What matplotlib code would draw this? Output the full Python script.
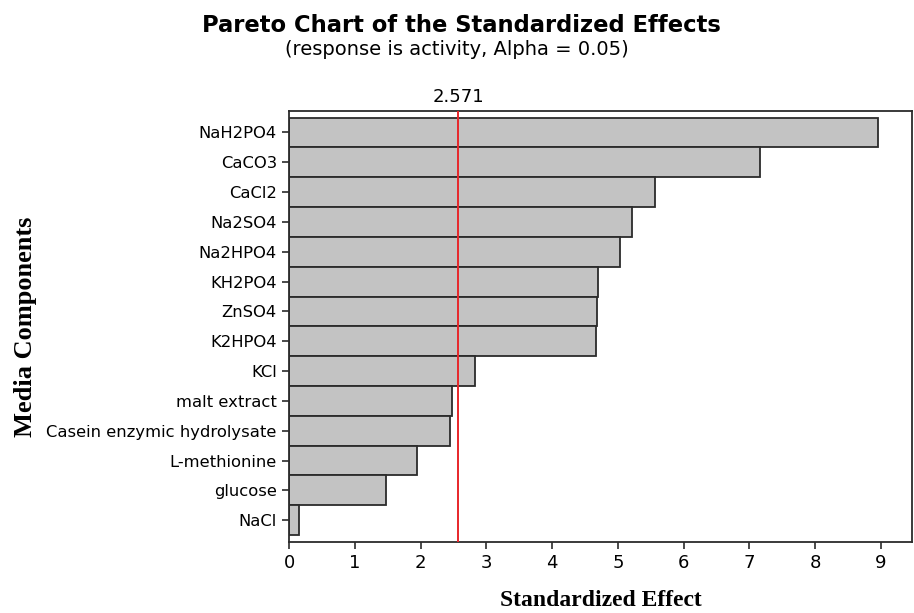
import numpy as np
import matplotlib
matplotlib.use('Agg')
import matplotlib.pyplot as plt

# standardized effects, largest first
components = ['NaH2PO4', 'CaCO3', 'CaCl2', 'Na2SO4', 'Na2HPO4', 'KH2PO4', 'ZnSO4',
              'K2HPO4', 'KCl', 'malt extract', 'Casein enzymic hydrolysate',
              'L-methionine', 'glucose', 'NaCl']
effects = [8.95, 7.16, 5.56, 5.22, 5.03, 4.69, 4.68, 4.66, 2.83, 2.48, 2.44, 1.95, 1.47, 0.15]
critical = 2.571
xticks = list(range(10))

plt.rcParams['font.family'] = 'DejaVu Sans'

fig = plt.figure(figsize=(9.14, 6.13), dpi=100)
ax = fig.add_axes([0.3165, 0.1163, 0.681, 0.7026])

pos = np.arange(len(components))
ax.barh(pos, effects, height=1.0, color='#c3c3c3', edgecolor='#2b2b2b', linewidth=1.3)
ax.axvline(critical, color='#e8262a', linewidth=1.4, zorder=3)

ax.set_ylim(len(components) - 0.28, -0.72)
ax.set_xlim(0, 9.47)
ax.set_yticks(pos)
ax.set_yticklabels(components, fontsize=11.8)
ax.set_xticks(xticks)
ax.set_xticklabels([str(t) for t in xticks], fontsize=13)
ax.tick_params(axis='both', direction='out', length=5, width=1.2, color='#2b2b2b', pad=4)
for s in ax.spines.values():
    s.set_linewidth(1.3)
    s.set_color('#2b2b2b')

ax.text(critical, 1.012, '%.3f' % critical, transform=ax.get_xaxis_transform(),
        ha='center', va='bottom', fontsize=13)

ax.set_xlabel('Standardized Effect', family='Liberation Serif', fontweight='bold',
              fontsize=17, labelpad=13)
ax.set_ylabel('Media Components', family='Liberation Serif', fontweight='bold',
              fontsize=19)
ax.yaxis.set_label_coords(-0.405, 0.5)

fig.text(0.505, 0.958, 'Pareto Chart of the Standardized Effects', ha='center', va='center',
         fontsize=16.3, fontweight='bold')
fig.text(0.5, 0.92, '(response is activity, Alpha = 0.05)', ha='center', va='center',
         fontsize=14)

fig.savefig('out.png', dpi=100)
